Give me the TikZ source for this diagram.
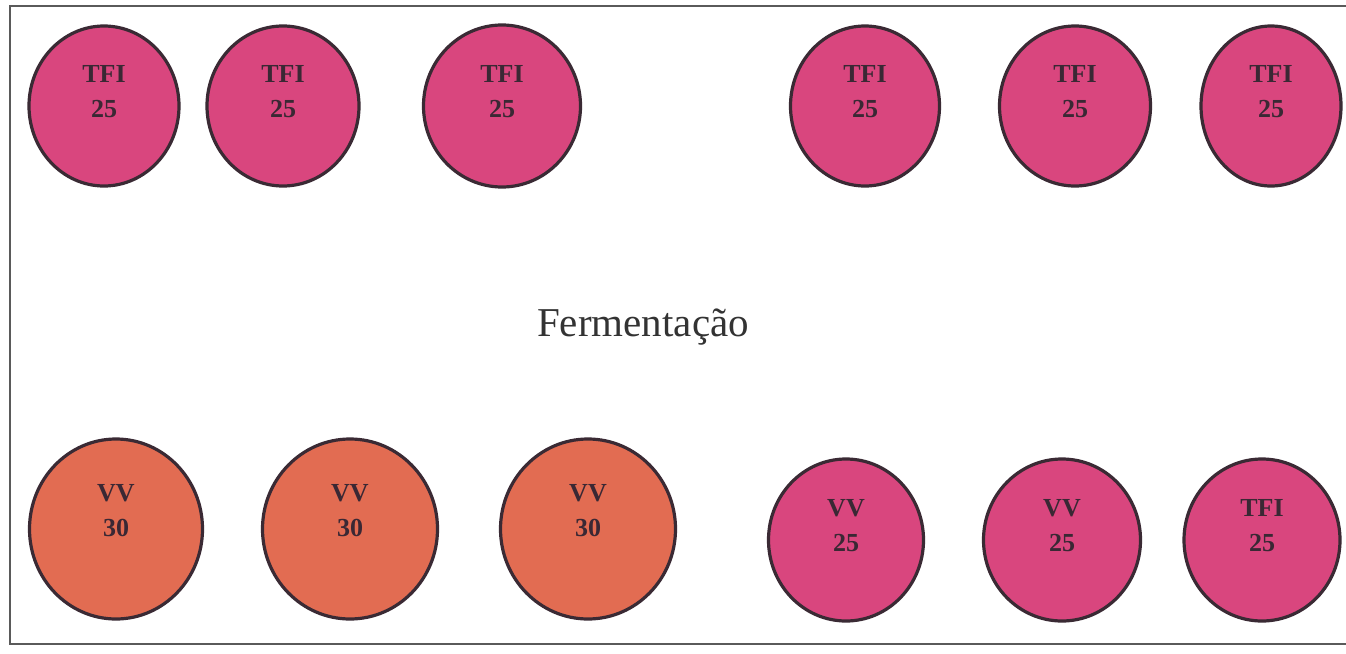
\documentclass[tikz,border=0pt]{standalone}
\usepackage{fontspec}
\setmainfont{Liberation Serif}
\usetikzlibrary{shapes.geometric}
\definecolor{pinkfill}{RGB}{217,70,126}
\definecolor{orangefill}{RGB}{226,108,82}
\definecolor{rim}{RGB}{58,42,52}
\definecolor{txt}{RGB}{58,40,52}
\definecolor{framecol}{RGB}{90,90,90}
\begin{document}
\begin{tikzpicture}[x=1pt,y=-1pt,
  tank/.style={ellipse, draw=rim, line width=3.2pt, inner sep=0pt},
  pinktank/.style={tank, fill=pinkfill},
  orangetank/.style={tank, fill=orangefill},
  tanklabel/.style={align=center, text=txt, font=\fontsize{26}{35}\selectfont\bfseries, inner sep=0pt},
  title/.style={font=\fontsize{41}{48}\selectfont, text=black!80, inner sep=0pt}
]
\useasboundingbox (0,0) rectangle (1346,653);
\fill[white] (0,0) rectangle (1346,653);
% frame
\draw[framecol, line width=1.5pt] (1350,6) -- (10,6) -- (10,644) -- (1350,644);

% top row
\node[pinktank, minimum width=150pt, minimum height=160pt] (t1) at (104,106) {};
\node[pinktank, minimum width=152pt, minimum height=160pt] (t2) at (283,106) {};
\node[pinktank, minimum width=157pt, minimum height=162pt] (t3) at (502,106) {};
\node[pinktank, minimum width=149pt, minimum height=160pt] (t4) at (865,106) {};
\node[pinktank, minimum width=151pt, minimum height=160pt] (t5) at (1075,106) {};
\node[pinktank, minimum width=140pt, minimum height=160pt] (t6) at (1271,106) {};

% bottom row
\node[orangetank, minimum width=173pt, minimum height=180pt] (b1) at (116,529) {};
\node[orangetank, minimum width=175pt, minimum height=180pt] (b2) at (350,529) {};
\node[orangetank, minimum width=175pt, minimum height=180pt] (b3) at (588,529) {};
\node[pinktank, minimum width=155pt, minimum height=162pt] (b4) at (846,540) {};
\node[pinktank, minimum width=157pt, minimum height=162pt] (b5) at (1062,540) {};
\node[pinktank, minimum width=156pt, minimum height=162pt] (b6) at (1262,540) {};

% labels
\node[tanklabel] (t1l) at ([yshift=14pt]t1.center) {TFI\\25};
\node[tanklabel] (t2l) at ([yshift=14pt]t2.center) {TFI\\25};
\node[tanklabel] (t3l) at ([yshift=14pt]t3.center) {TFI\\25};
\node[tanklabel] (t4l) at ([yshift=14pt]t4.center) {TFI\\25};
\node[tanklabel] (t5l) at ([yshift=14pt]t5.center) {TFI\\25};
\node[tanklabel] (t6l) at ([yshift=14pt]t6.center) {TFI\\25};
\node[tanklabel] (b1l) at ([yshift=18pt]b1.center) {VV\\30};
\node[tanklabel] (b2l) at ([yshift=18pt]b2.center) {VV\\30};
\node[tanklabel] (b3l) at ([yshift=18pt]b3.center) {VV\\30};
\node[tanklabel] (b4l) at ([yshift=14pt]b4.center) {VV\\25};
\node[tanklabel] (b5l) at ([yshift=14pt]b5.center) {VV\\25};
\node[tanklabel] (b6l) at ([yshift=14pt]b6.center) {TFI\\25};

% title
\node[title, anchor=base] (ferm) at (643,336) {Fermentação};
\end{tikzpicture}
\end{document}
